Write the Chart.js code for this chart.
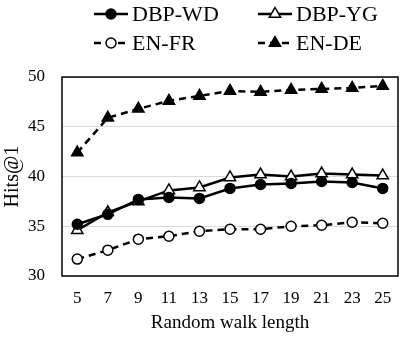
<!DOCTYPE html>
<html>
<head>
<meta charset="utf-8">
<script src="https://cdn.jsdelivr.net/npm/chart.js@4"></script>
<style>
  html, body { margin: 0; padding: 0; background: #fff; }
  #wrap { width: 406px; height: 340px; }
</style>
</head>
<body>
<div id="wrap"><canvas id="hitsChart" width="406" height="340"></canvas></div>
<script>
// data
const walkLengths = ['5', '7', '9', '11', '13', '15', '17', '19', '21', '23', '25'];
const dbpWd = [35.2, 36.2, 37.7, 37.9, 37.8, 38.8, 39.2, 39.3, 39.5, 39.4, 38.8];
const dbpYg = [34.6, 36.4, 37.5, 38.6, 38.9, 39.9, 40.2, 40.0, 40.3, 40.2, 40.1];
const enFr = [31.7, 32.6, 33.7, 34.0, 34.5, 34.7, 34.7, 35.0, 35.1, 35.4, 35.3];
const enDe = [42.4, 45.9, 46.8, 47.6, 48.1, 48.6, 48.5, 48.7, 48.8, 48.9, 49.1];
const yTicks = [30, 35, 40, 45, 50];

const FONT = "'Liberation Serif', 'Times New Roman', serif";
const DASH = [7, 5];

// box round plot area
const frame = {
  id: 'frame',
  afterDatasetsDraw(chart) {
    const a = chart.chartArea, ctx = chart.ctx;
    ctx.save();
    ctx.strokeStyle = '#000';
    ctx.lineWidth = 1.5;
    ctx.strokeRect(a.left, a.top, a.right - a.left, a.bottom - a.top);
    ctx.restore();
  }
};

// two-column legend with line + marker
// (text drawn at 20px and scaled up, bigger sizes fell back to a sans face)
const twoColLegend = {
  id: 'twoColLegend',
  afterDraw(chart) {
    const ctx = chart.ctx;
    const cols = [94, 258];
    const rows = [14, 43];
    const legendFont = Chart.helpers.toFont({ family: FONT, size: 20 });
    chart.data.datasets.forEach((ds, i) => {
      const x = cols[i % 2], y = rows[Math.floor(i / 2)];
      ctx.save();
      ctx.strokeStyle = '#000';
      ctx.lineWidth = 2.5;
      ctx.setLineDash(ds.borderDash || []);
      ctx.beginPath();
      ctx.moveTo(x, y);
      ctx.lineTo(x + 34, y);
      ctx.stroke();
      ctx.setLineDash([]);
      ctx.fillStyle = ds.pointBackgroundColor;
      ctx.strokeStyle = '#000';
      ctx.lineWidth = 1.5;
      Chart.helpers.drawPoint(ctx, {
        pointStyle: ds.pointStyle,
        radius: ds.pointRadius,
        borderWidth: 1.5
      }, x + 17, y);
      ctx.restore();

      ctx.save();
      ctx.translate(x + 38, y + 1);
      ctx.scale(1.1, 1.1);
      Chart.helpers.renderText(ctx, ds.label, 0, 0, legendFont, {
        color: '#000', textAlign: 'left', textBaseline: 'middle'
      });
      ctx.restore();
    });
  }
};

const ctx = document.getElementById('hitsChart').getContext('2d');
new Chart(ctx, {
  type: 'line',
  data: {
    labels: walkLengths,
    datasets: [
      { label: 'DBP-WD', data: dbpWd, borderColor: '#000', borderWidth: 2.5,
        pointStyle: 'circle', pointRadius: 5, pointBackgroundColor: '#000',
        pointBorderColor: '#000', pointBorderWidth: 1.5 },
      { label: 'DBP-YG', data: dbpYg, borderColor: '#000', borderWidth: 2.5,
        pointStyle: 'triangle', pointRadius: 6.5, pointBackgroundColor: '#fff',
        pointBorderColor: '#000', pointBorderWidth: 1.5 },
      { label: 'EN-FR', data: enFr, borderColor: '#000', borderWidth: 2.5, borderDash: DASH,
        pointStyle: 'circle', pointRadius: 5, pointBackgroundColor: '#fff',
        pointBorderColor: '#000', pointBorderWidth: 1.5 },
      { label: 'EN-DE', data: enDe, borderColor: '#000', borderWidth: 2.5, borderDash: DASH,
        pointStyle: 'triangle', pointRadius: 6.5, pointBackgroundColor: '#000',
        pointBorderColor: '#000', pointBorderWidth: 1.5 }
    ]
  },
  options: {
    responsive: false,
    animation: false,
    font: { family: FONT },
    layout: { padding: { top: 77, right: 3, left: 0, bottom: 0 } },
    plugins: {
      legend: { display: false },
      tooltip: { enabled: false }
    },
    scales: {
      x: {
        offset: true,
        afterFit: (axis) => { axis.height = 64; },
        grid: { display: false, drawTicks: false },
        border: { display: false },
        ticks: { color: '#000', font: { family: FONT, size: 17 }, padding: 12, maxRotation: 0 },
        title: { display: true, text: 'Random walk length', color: '#000',
                 font: { family: FONT, size: 19 }, padding: { top: 6, bottom: 6 } }
      },
      y: {
        min: 30, max: 50,
        afterBuildTicks: (axis) => { axis.ticks = yTicks.map(v => ({ value: v })); },
        afterFit: (axis) => { axis.width = 62; },
        grid: { color: '#d9d9d9', lineWidth: 1, drawTicks: false },
        border: { display: false },
        ticks: { color: '#000', font: { family: FONT, size: 17 }, padding: 17 },
        title: { display: true, text: 'Hits@1', color: '#000',
                 font: { family: FONT, size: 20 }, padding: { top: 1, bottom: 0 } }
      }
    }
  },
  plugins: [frame, twoColLegend]
});
</script>
</body>
</html>
